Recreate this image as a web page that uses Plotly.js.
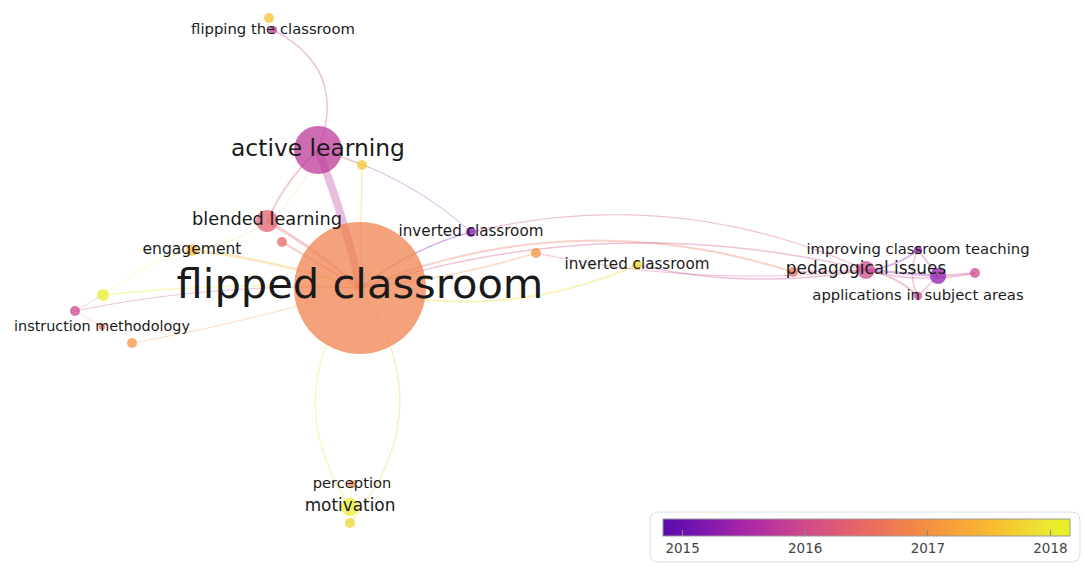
<!DOCTYPE html>
<html>
<head>
<meta charset="utf-8">
<script src="https://cdn.plot.ly/plotly-3.0.1.min.js"></script>
<style>html,body{margin:0;padding:0;background:#fff;}#chart{width:1084px;height:567px;}</style>
</head>
<body>
<div id="chart"></div>
<script>
// ---- data (VOSviewer overlay map, layout coordinates in map units) ----
const nodeLabels = ["flipped classroom","active learning","blended learning","","engagement","",
  "","flipping the classroom","inverted classroom","","inverted classroom","",
  "pedagogical issues","","","improving classroom teaching","applications in subject areas",
  "perception","motivation","","","","instruction methodology",""];
const nodeX = [360,318,267,282,192,362,269,273,471,536,637,793,866,938,975,918,918,352,350,350,103,75,102,132];
const nodeY = [288,150,221,242,250,165,18,30,232,253,265,272,270,276,273,250,296,484,507,523,295,311,327,343];
const nodeOccurrences = [174,23,4.8,1,1.4,1,1,0.7,1,1,1,1,3.2,2.6,1,0.7,0.7,0.6,3.2,1,1.4,1,0.4,1];
const nodeAvgYear = [2016.8,2015.75,2016.35,2016.45,2017.55,2017.65,2017.6,2015.85,2015.2,2017.0,2017.8,2016.6,
  2015.95,2015.3,2015.95,2015.4,2016.0,2016.9,2018.05,2017.75,2018.05,2015.95,2016.6,2017.05];
// links: source, target, strength, curvature
const linkSource = [0,0,0,1,0,0,1,1,1,1,0,0,0,0,0,8,10,9,0,0,0,0,0,4,12,12,12,13,13,13,15,12,11,17,18,20,21];
const linkTarget = [1,2,3,2,4,5,5,7,8,4,8,9,10,11,12,12,12,12,18,19,20,21,23,20,13,15,16,14,15,16,16,14,12,18,19,21,22];
const linkStrength = [8,3,2,2,2.5,1.5,1,1.5,1,0.8,1.5,1.5,2,2,1.5,1.2,1.5,1,1.5,1.5,1.5,1,1,0.8,2.5,2,2,2,1.5,1.5,1.5,1.5,1.5,1,1,0.8,0.8];
const linkCurvature = [0.04,0.05,0,0.1,0.05,0,0,0.45,-0.12,-0.3,-0.1,0.05,0.17,-0.18,-0.14,-0.17,0.1,0.08,0.36,-0.38,0.04,0.06,-0.03,0.1,0,0.15,-0.15,0,0,0,0.25,0.12,0,0,0,0,0];
const colorbarTicks = [2015,2016,2017,2018];
const yearMin = 2014.84, yearMax = 2018.16;

// ---- colour scale ----
const scaleStops = [[0,'#5a0ca8'],[0.05,'#6a10b0'],[0.2,'#a826a8'],[0.35,'#d04a8a'],[0.5,'#e86a62'],[0.65,'#f59040'],[0.8,'#f8b832'],[0.95,'#ecea30'],[1,'#e6f224']];
function hex2rgb(h){return [parseInt(h.substr(1,2),16),parseInt(h.substr(3,2),16),parseInt(h.substr(5,2),16)];}
function yearColor(y, a){
  let t=(y-yearMin)/(yearMax-yearMin); t=Math.max(0,Math.min(1,t));
  for(let i=1;i<scaleStops.length;i++){
    if(t<=scaleStops[i][0]){
      const s0=scaleStops[i-1], s1=scaleStops[i];
      const f=(t-s0[0])/(s1[0]-s0[0]);
      const c0=hex2rgb(s0[1]), c1=hex2rgb(s1[1]);
      const c=c0.map((v,k)=>Math.round(v+(c1[k]-v)*f));
      return `rgba(${c[0]},${c[1]},${c[2]},${a})`;
    }
  }
  return scaleStops[scaleStops.length-1][1];
}

const FONT = '"DejaVu Sans", "Open Sans", sans-serif';
const traces = [];

// links as curved lines, coloured by the linked (non-hub) node
for(let i=0;i<linkSource.length;i++){
  const a=linkSource[i], b=linkTarget[i];
  const x0=nodeX[a], y0=nodeY[a], x1=nodeX[b], y1=nodeY[b];
  const dx=x1-x0, dy=y1-y0;
  const cx=(x0+x1)/2 + linkCurvature[i]*(-dy), cy=(y0+y1)/2 + linkCurvature[i]*(dx);
  const xs=[], ys=[];
  for(let k=0;k<=40;k++){
    const t=k/40;
    xs.push((1-t)*(1-t)*x0+2*(1-t)*t*cx+t*t*x1);
    ys.push((1-t)*(1-t)*y0+2*(1-t)*t*cy+t*t*y1);
  }
  traces.push({type:'scatter',mode:'lines',x:xs,y:ys,hoverinfo:'skip',showlegend:false,
    line:{color:yearColor(nodeAvgYear[b],0.33),width:linkStrength[i],shape:'spline'}});
}

// nodes
const diam = nodeOccurrences.map(o=>10*Math.sqrt(o));
traces.push({type:'scatter',mode:'markers',x:nodeX,y:nodeY,text:nodeLabels,hoverinfo:'text',showlegend:false,
  marker:{size:diam,color:nodeAvgYear,cmin:yearMin,cmax:yearMax,colorscale:scaleStops,opacity:0.74,line:{width:0},
    showscale:true,
    colorbar:{orientation:'h',x:866.5/1084,xanchor:'center',y:1-519/567,yanchor:'top',
      len:407,lenmode:'pixels',thickness:17,thicknessmode:'pixels',xpad:0,ypad:0,
      tickvals:colorbarTicks,ticktext:colorbarTicks.map(String),ticks:'inside',ticklen:6,tickcolor:'#888',
      outlinewidth:1,outlinecolor:'#999',tickfont:{family:FONT,size:13.5,color:'#444'}}}});

// labels (font size grows with node size)
const lx=[],ly=[],lt=[],ls=[];
nodeLabels.forEach((t,i)=>{ if(t){ lx.push(nodeX[i]); ly.push(nodeY[i]); lt.push(t); ls.push(13+0.217*diam[i]); }});
traces.push({type:'scatter',mode:'text',x:lx,y:ly,text:lt,textposition:'middle center',hoverinfo:'skip',showlegend:false,
  textfont:{family:FONT,size:ls,color:'#1a1a1a'}});

// legend frame (rounded)
const bx0=650,bx1=1080,by0=512,by1=562,r=9;
const framePath=`M${bx0+r},${by0} L${bx1-r},${by0} Q${bx1},${by0} ${bx1},${by0+r} L${bx1},${by1-r} Q${bx1},${by1} ${bx1-r},${by1} L${bx0+r},${by1} Q${bx0},${by1} ${bx0},${by1-r} L${bx0},${by0+r} Q${bx0},${by0} ${bx0+r},${by0} Z`;

const layout = {
  width:1084,height:567,margin:{l:0,r:0,t:0,b:0},paper_bgcolor:'#fff',plot_bgcolor:'#fff',
  xaxis:{range:[0,1084],visible:false,fixedrange:true},
  yaxis:{range:[567,0],visible:false,fixedrange:true},
  shapes:[{type:'path',path:framePath,xref:'x',yref:'y',line:{color:'#dcdcdc',width:1},fillcolor:'rgba(0,0,0,0)',layer:'below'}],
  font:{family:FONT}
};
Plotly.newPlot('chart',traces,layout,{displayModeBar:false,staticPlot:true});
</script>
</body>
</html>
